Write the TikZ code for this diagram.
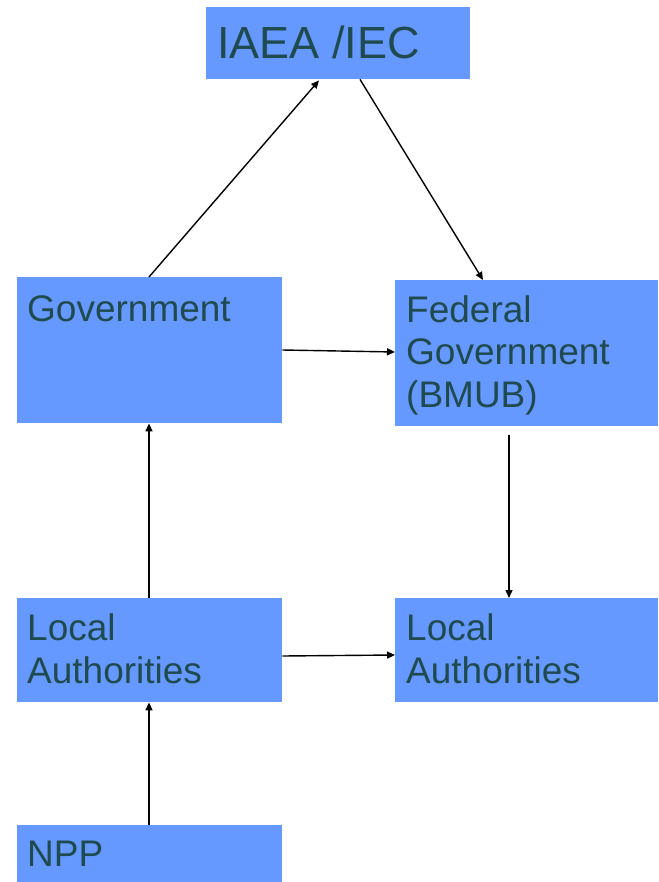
\documentclass[tikz,border=0pt]{standalone}
\usepackage{fontspec}
\setmainfont{Liberation Sans}
\usetikzlibrary{arrows.meta}
\definecolor{boxblue}{HTML}{6699FF}
\definecolor{txt}{HTML}{1F4A4F}
\begin{document}
\begin{tikzpicture}[x=1pt,y=-1pt,
  box/.style={fill=boxblue,draw=none,inner sep=0,anchor=north west},
  lbl/.style={text=txt,inner sep=0,anchor=base west,align=left,font=\fontsize{37}{42.5}\selectfont},
  conn/.style={line width=1.4pt,-{Triangle[length=8pt,width=7pt]}}]
\useasboundingbox (0,0) rectangle (658,882);
\node[box,minimum width=264,minimum height=72] (iaea) at (206,7) {};
\node[box,minimum width=265,minimum height=146] (gov) at (17,277) {};
\node[box,minimum width=263,minimum height=146] (fed) at (395,280) {};
\node[box,minimum width=265,minimum height=104] (locl) at (17,598) {};
\node[box,minimum width=263,minimum height=104] (locr) at (395,598) {};
\node[box,minimum width=265,minimum height=57] (npp) at (17,825) {};
\node[lbl,font=\fontsize{45}{50}\selectfont] (tiaea) at (217,59) {IAEA /IEC};
\node[lbl] (tgov) at (27,321) {Government};
\node[lbl] (tfed) at (406,407) {Federal\\Government\\(BMUB)};
\node[lbl] (tlocl) at (27,683) {Local\\Authorities};
\node[lbl] (tlocr) at (406,683) {Local\\Authorities};
\node[lbl] (tnpp) at (27,866) {NPP};
\coordinate (fedout) at (509,435);
\draw[conn] ([xshift=132]gov.north west) -- ([xshift=113,yshift=-1]iaea.south west);
\draw[conn] ([xshift=154]iaea.south west) -- ([xshift=88]fed.north west);
\draw[conn] ([yshift=-73]gov.north east) -- ([yshift=-72]fed.north west);
\draw[conn] (fedout) -- ([xshift=114]locr.north west);
\draw[conn] ([xshift=132]locl.north west) -- ([xshift=132]gov.south west);
\draw[conn] ([yshift=-58]locl.north east) -- ([yshift=-57]locr.north west);
\draw[conn] ([xshift=132]npp.north west) -- ([xshift=132]locl.south west);
\end{tikzpicture}
\end{document}
